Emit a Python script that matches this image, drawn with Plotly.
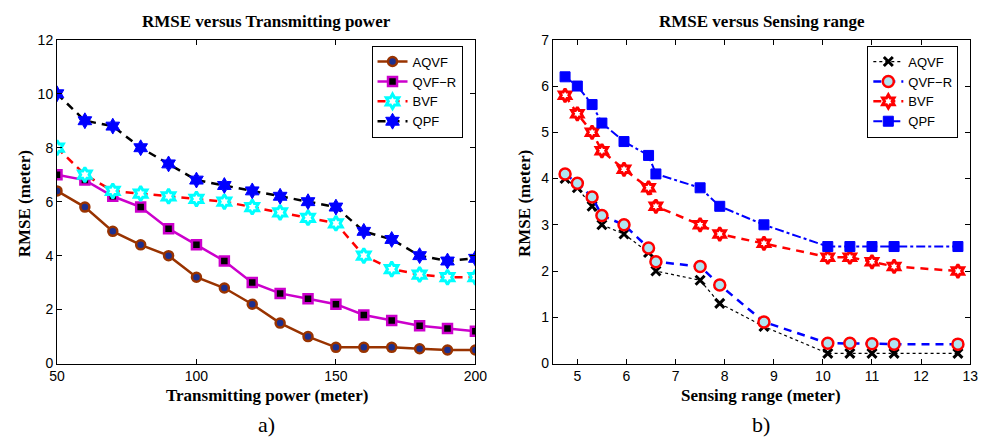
import plotly.graph_objects as go

# ---------------- data ----------------
power = [50, 60, 70, 80, 90, 100, 110, 120, 130, 140, 150, 160, 170, 180, 190, 200]
a_aqvf = [6.4, 5.8, 4.9, 4.4, 4.0, 3.2, 2.8, 2.2, 1.5, 1.0, 0.6, 0.6, 0.6, 0.55, 0.5, 0.5]
a_qvfr = [7.0, 6.8, 6.2, 5.8, 5.0, 4.4, 3.8, 3.0, 2.6, 2.4, 2.2, 1.8, 1.6, 1.4, 1.3, 1.2]
a_bvf = [8.0, 7.0, 6.4, 6.3, 6.2, 6.1, 6.0, 5.8, 5.6, 5.4, 5.2, 4.0, 3.5, 3.3, 3.2, 3.2]
a_qpf = [10.0, 9.0, 8.8, 8.0, 7.4, 6.8, 6.6, 6.4, 6.2, 6.0, 5.8, 4.9, 4.6, 4.0, 3.8, 3.9]

srange = [4.75, 5.0, 5.3, 5.5, 5.95, 6.45, 6.6, 7.5, 7.9, 8.8, 10.1, 10.55, 11.0, 11.45, 12.75]
b_aqvf = [4.0, 3.8, 3.4, 3.0, 2.8, 2.4, 2.0, 1.8, 1.3, 0.8, 0.22, 0.22, 0.22, 0.22, 0.22]
b_qvfr = [4.1, 3.9, 3.6, 3.2, 3.0, 2.5, 2.2, 2.1, 1.7, 0.9, 0.44, 0.44, 0.43, 0.42, 0.42]
b_bvf = [5.8, 5.4, 5.0, 4.6, 4.2, 3.8, 3.4, 3.0, 2.8, 2.6, 2.3, 2.3, 2.2, 2.1, 2.0]
b_qpf = [6.2, 6.0, 5.6, 5.2, 4.8, 4.5, 4.1, 3.8, 3.4, 3.0, 2.53, 2.53, 2.53, 2.53, 2.53]

W, H = 992, 439
TICKFONT = dict(family="Liberation Sans, Arial, sans-serif", size=14, color="black")
SERIF = "Liberation Serif, Times New Roman, serif"

fig = go.Figure()

# ---------------- panel a ----------------
fig.add_trace(go.Scatter(x=power, y=a_aqvf, name="AQVF", mode="lines+markers",
                         line=dict(color="#993300", width=2.5),
                         marker=dict(symbol="circle", size=9, color="#1c2f8f",
                                     line=dict(color="#993300", width=2.5)),
                         xaxis="x", yaxis="y", legend="legend"))
fig.add_trace(go.Scatter(x=power, y=a_qvfr, name="QVF\u2212R", mode="lines+markers",
                         line=dict(color="#cc00cc", width=2.5),
                         marker=dict(symbol="square", size=9, color="black",
                                     line=dict(color="#cc00cc", width=2.5)),
                         xaxis="x", yaxis="y", legend="legend"))
fig.add_trace(go.Scatter(x=power, y=a_bvf, name="BVF", mode="lines+markers",
                         line=dict(color="red", width=2.5, dash="8px,6px"),
                         marker=dict(symbol="hexagram", size=11, color="white",
                                     line=dict(color="cyan", width=3)),
                         xaxis="x", yaxis="y", legend="legend"))
fig.add_trace(go.Scatter(x=power, y=a_qpf, name="QPF", mode="lines+markers",
                         line=dict(color="black", width=2.5, dash="8px,6px"),
                         marker=dict(symbol="hexagram", size=12, color="blue",
                                     line=dict(color="blue", width=1)),
                         xaxis="x", yaxis="y", legend="legend"))

# ---------------- panel b ----------------
fig.add_trace(go.Scatter(x=srange, y=b_aqvf, name="AQVF", mode="lines+markers",
                         line=dict(color="black", width=1.2, dash="dot"),
                         marker=dict(symbol="x-thin", size=9, color="black",
                                     line=dict(color="black", width=3)),
                         xaxis="x2", yaxis="y2", legend="legend2"))
fig.add_trace(go.Scatter(x=srange, y=b_qvfr, name="QVF\u2212R", mode="lines+markers",
                         line=dict(color="blue", width=2.5, dash="8px,6px"),
                         marker=dict(symbol="circle", size=11, color="#b0e4f0",
                                     line=dict(color="red", width=2.5)),
                         xaxis="x2", yaxis="y2", legend="legend2"))
fig.add_trace(go.Scatter(x=srange, y=b_bvf, name="BVF", mode="lines+markers",
                         line=dict(color="red", width=2.5, dash="8px,6px"),
                         marker=dict(symbol="hexagram", size=10, color="white",
                                     line=dict(color="red", width=3)),
                         xaxis="x2", yaxis="y2", legend="legend2"))
fig.add_trace(go.Scatter(x=srange, y=b_qpf, name="QPF", mode="lines+markers",
                         line=dict(color="blue", width=2, dash="dashdot"),
                         marker=dict(symbol="square", size=10, color="blue",
                                     line=dict(color="blue", width=1)),
                         xaxis="x2", yaxis="y2", legend="legend2"))

ax_common = dict(showline=True, linecolor="black", linewidth=1, mirror="allticks",
                 ticks="inside", ticklen=5, tickcolor="black", showgrid=False,
                 zeroline=False, tickfont=TICKFONT)

y0, y1 = 1 - 369 / H, 1 - 33 / H
LEGFONT = dict(family="Liberation Sans, Arial, sans-serif", size=13, color="black")
fig.update_layout(
    width=W, height=H, margin=dict(l=0, r=0, t=0, b=0),
    paper_bgcolor="white", plot_bgcolor="white", showlegend=True,
    xaxis=dict(domain=[50 / W, 477 / W], range=[50, 200], tickvals=[50, 100, 150, 200],
               anchor="y", **ax_common),
    yaxis=dict(domain=[y0, y1], range=[0, 12], tickvals=list(range(0, 13, 2)),
               anchor="x", **ax_common),
    xaxis2=dict(domain=[556 / W, 982 / W], range=[4.5, 13], tickvals=list(range(5, 14)),
                anchor="y2", **ax_common),
    yaxis2=dict(domain=[y0, y1], range=[0, 7], tickvals=list(range(0, 8)),
                anchor="x2", **ax_common),
    legend=dict(x=371 / W, y=1 - 39 / H, xanchor="left", yanchor="top",
                bgcolor="white", bordercolor="black", borderwidth=1,
                font=LEGFONT, tracegroupgap=0, itemwidth=30),
    legend2=dict(x=877 / W, y=1 - 39 / H, xanchor="left", yanchor="top",
                 bgcolor="white", bordercolor="black", borderwidth=1,
                 font=LEGFONT, tracegroupgap=0, itemwidth=30),
)

ann = []
def txt(x, y, s, size, bold=True, angle=0):
    ann.append(dict(x=x / W, y=1 - y / H, xref="paper", yref="paper", text=(f"<b>{s}</b>" if bold else s),
                    showarrow=False, textangle=angle, xanchor="center", yanchor="middle",
                    font=dict(family=SERIF, size=size, color="black")))

txt(264, 14, "RMSE versus Transmitting power", 17)
txt(770, 14, "RMSE versus Sensing range", 17)
txt(264, 402, "Transmitting power (meter)", 17)
txt(769, 402, "Sensing range (meter)", 17)
txt(17, 203, "RMSE (meter)", 17, angle=-90)
txt(527, 203, "RMSE (meter)", 17, angle=-90)
txt(264, 432, "a)", 22, bold=False)
txt(768, 432, "b)", 22, bold=False)
fig.update_layout(annotations=ann)

fig.write_html("out.html")
